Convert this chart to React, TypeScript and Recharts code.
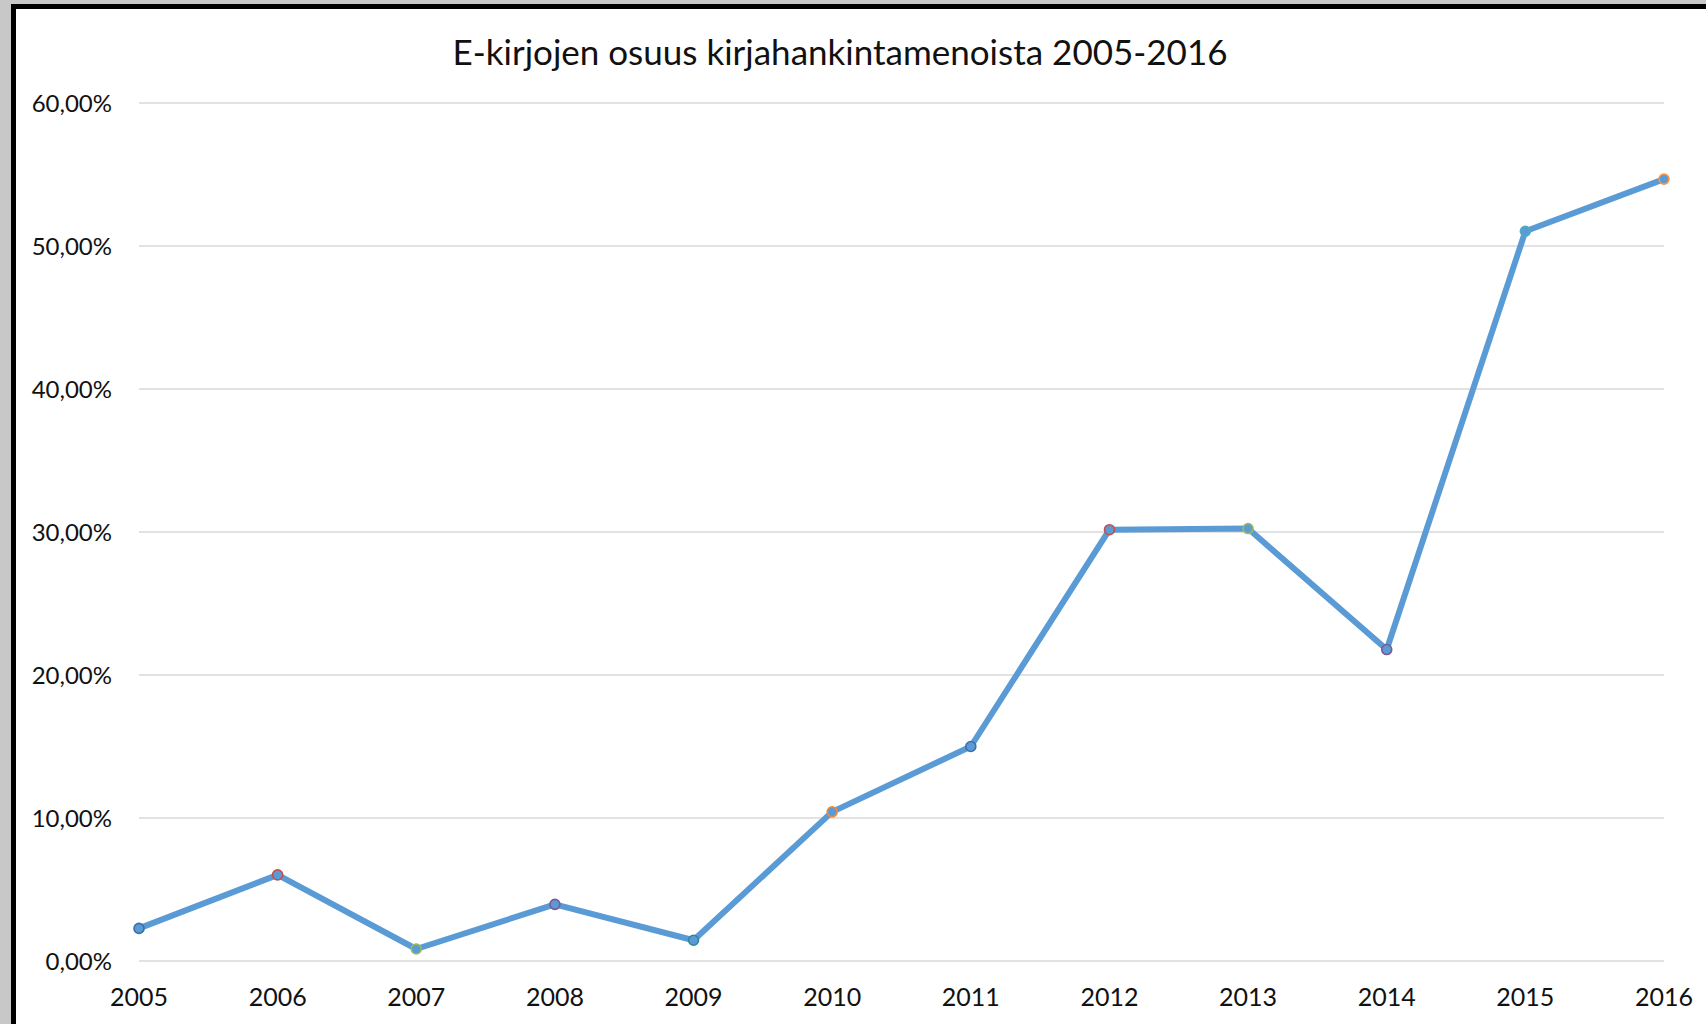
import React from "react";
import { LineChart, Line, XAxis, YAxis, CartesianGrid } from "recharts";

const years = ["2005", "2006", "2007", "2008", "2009", "2010", "2011", "2012", "2013", "2014", "2015", "2016"];
const shares = [0.0228, 0.0602, 0.0084, 0.0396, 0.0145, 0.1043, 0.150, 0.3016, 0.3024, 0.2178, 0.5103, 0.5468];
const markerColors = ["#3d6fae", "#c0504d", "#9bbb59", "#7a5a95", "#31859c", "#f08a3a", "#3d6fae", "#c0504d", "#9bbb59", "#7a5a95", "#4bacc6", "#f79646"];
const yTicks = [0, 0.1, 0.2, 0.3, 0.4, 0.5, 0.6];
const title = "E-kirjojen osuus kirjahankintamenoista 2005-2016";

const data = years.map((y, i) => ({ year: y, share: shares[i] }));

const fmt = (v: number) => (v * 100).toFixed(2).replace(".", ",") + "%";

const FONT = "Lato, 'Open Sans', sans-serif";

const Dot = (props: any) => {
  const { cx, cy, index } = props;
  if (cx == null || cy == null) return null;
  return <circle key={index} cx={cx} cy={cy} r={5} fill="#5b9bd5" stroke={markerColors[index]} strokeWidth={1.6} />;
};

export default function App() {
  return (
    <div style={{ position: "absolute", left: 0, top: 0, width: 1706, height: 1024, background: "#c8c8c8", overflow: "hidden" }}>
      <div style={{ position: "absolute", left: 11, top: 4, width: 1760, height: 1100, border: "5px solid #000", background: "#fff" }} />
      <div style={{ position: "absolute", left: 0, top: 29, width: 1680, textAlign: "center", fontFamily: FONT, fontSize: 35, color: "#111", lineHeight: "44px" }}>
        {title}
      </div>
      <div style={{ position: "absolute", left: 0, top: 0 }}>
        <LineChart width={1706} height={1024} data={data} margin={{ top: 103, right: 42, bottom: 23, left: 39 }}>
          <CartesianGrid vertical={false} stroke="#d9d9d9" strokeWidth={1.5} />
          <XAxis dataKey="year" axisLine={false} tickLine={false} tickSize={0} tickMargin={27} height={40}
            tick={{ fill: "#111", fontSize: 25, fontFamily: FONT }} interval={0} />
          <YAxis domain={[0, 0.6]} ticks={yTicks} tickFormatter={fmt} axisLine={false} tickLine={false}
            tickSize={0} tickMargin={27} width={100} tick={{ fill: "#111", fontSize: 24, fontFamily: FONT }} />
          <Line dataKey="share" stroke="#5b9bd5" strokeWidth={6} dot={<Dot />} activeDot={false} isAnimationActive={false} strokeLinejoin="round" />
        </LineChart>
      </div>
    </div>
  );
}
